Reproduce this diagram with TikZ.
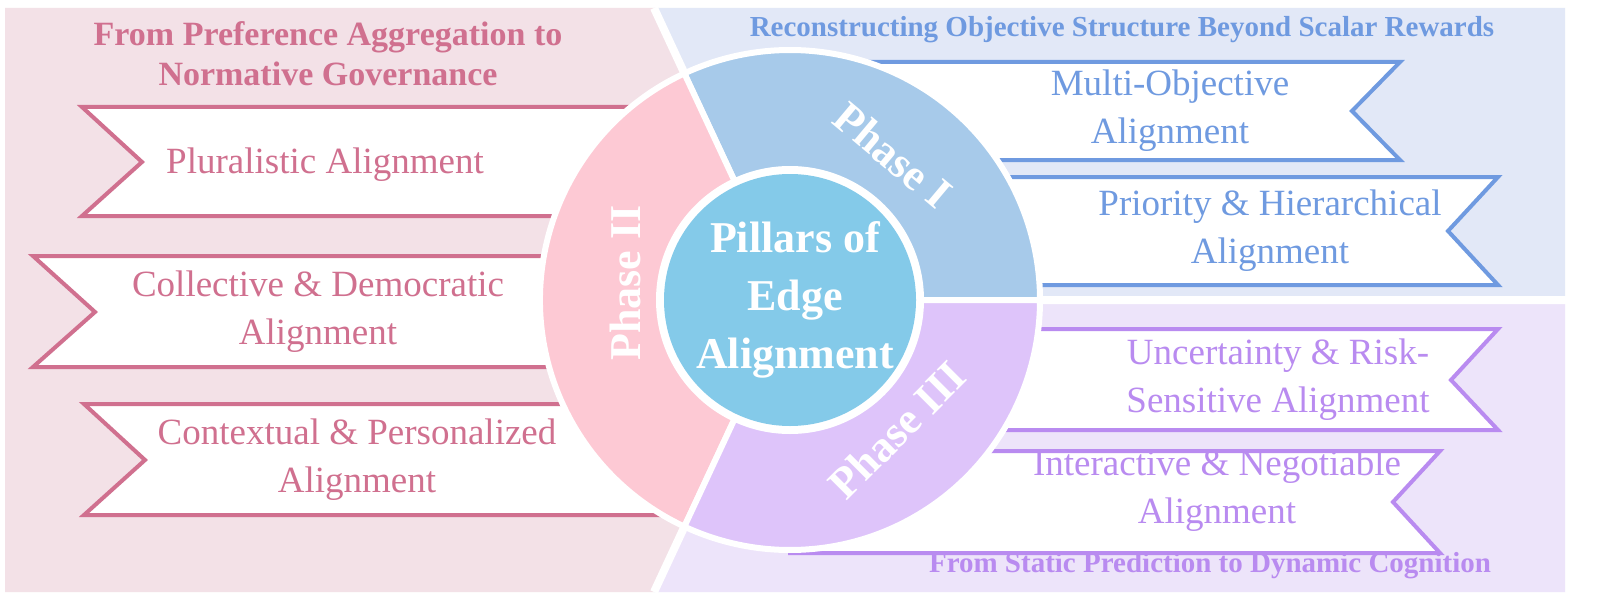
\documentclass[tikz,border=0pt]{standalone}
\usepackage{fontspec}
\setmainfont{Liberation Serif}
\definecolor{pbg}{HTML}{F3E1E7}\definecolor{pln}{HTML}{D0708F}\definecolor{pring}{HTML}{FDC9D4}
\definecolor{bbg}{HTML}{E2E8F7}\definecolor{bln}{HTML}{6F9AE0}\definecolor{bring}{HTML}{A7CAEA}
\definecolor{vbg}{HTML}{EDE4FA}\definecolor{vln}{HTML}{B98BF0}\definecolor{vring}{HTML}{DEC4FA}
\definecolor{core}{HTML}{84CAE9}
\begin{document}
\begin{tikzpicture}[x=0.5pt,y=-0.5pt,
  rib/.style={fill=white,draw=#1,line width=2pt,line join=miter},
  rtext/.style={text=#1,font=\fontsize{18.5}{24}\selectfont,align=center},
  ttl/.style={text=#1,font=\bfseries\fontsize{17}{20}\selectfont,align=center},
  wedge/.style={fill=#1,draw=white,line width=3pt},
  phase/.style={text=white,font=\bfseries\fontsize{22}{24}\selectfont}]
\useasboundingbox (0,0) rectangle (1600,610);
\fill[white] (0,0) rectangle (1600,610);
\coordinate (c) at (790,300);
% backgrounds
\fill[pbg] (5,8) -- (654,8) -- (c) -- (654,592) -- (5,592) -- cycle;
\fill[bbg] (654,8) -- (1565,8) -- (1565,300) -- (c) -- cycle;
\fill[vbg] (c) -- (1565,300) -- (1565,592) -- (654,592) -- cycle;
\draw[white,line width=4pt] (c) -- (654,8) (c) -- (654,592) (c) -- (1600,300);
% titles
\node[ttl=pln] (t2) at (328,54) {From Preference Aggregation to\\Normative Governance};
\node[ttl=bln,font=\bfseries\fontsize{14.5}{16}\selectfont] (t1) at (1122,30) {Reconstructing Objective Structure Beyond Scalar Rewards};
\node[ttl=vln,font=\bfseries\fontsize{14.5}{16}\selectfont] (t3) at (1210,566) {From Static Prediction to Dynamic Cognition};
% left ribbons
\draw[rib=pln] (82,107) -- (790,107) -- (790,216) -- (82,216) -- (142,162) -- cycle;
\draw[rib=pln] (33,256) -- (790,256) -- (790,367) -- (33,367) -- (95,312) -- cycle;
\draw[rib=pln] (84,404) -- (790,404) -- (790,515) -- (84,515) -- (145,460) -- cycle;
% right ribbons
\draw[rib=bln] (1400,62) -- (790,62) -- (790,160) -- (1400,160) -- (1352,111) -- cycle;
\draw[rib=bln] (1498,177) -- (790,177) -- (790,285) -- (1498,285) -- (1448,231) -- cycle;
\draw[rib=vln] (1498,329) -- (790,329) -- (790,430) -- (1498,430) -- (1451,380) -- cycle;
\draw[rib=vln] (1440,451) -- (790,451) -- (790,553) -- (1440,553) -- (1393,502) -- cycle;
% ribbon texts
\node[rtext=pln] (r1) at (325,165) {Pluralistic Alignment};
\node[rtext=pln] (r2) at (318,312) {Collective \& Democratic\\Alignment};
\node[rtext=pln] (r3) at (357,460) {Contextual \& Personalized\\Alignment};
\node[rtext=bln] (r4) at (1170,111) {Multi-Objective\\Alignment};
\node[rtext=bln] (r5) at (1270,231) {Priority \& Hierarchical\\Alignment};
\node[rtext=vln] (r6) at (1278,380) {Uncertainty \& Risk-\\Sensitive Alignment};
\node[rtext=vln] (r7) at (1217,491) {Interactive \& Negotiable\\Alignment};
% ring
\draw[wedge=bring] (c) -- ++(0:250) arc[start angle=0,end angle=-115,radius=250] -- cycle;
\draw[wedge=pring] (c) -- ++(-115:250) arc[start angle=-115,end angle=-245,radius=250] -- cycle;
\draw[wedge=vring] (c) -- ++(-245:250) arc[start angle=-245,end angle=-360,radius=250] -- cycle;
\fill[white] (c) circle[radius=134];
\fill[core] (c) circle[radius=126];
\node[text=white,font=\bfseries\fontsize{22}{29}\selectfont,align=center] (core) at (795,300) {Pillars of\\Edge\\Alignment};
\node[phase,rotate=-40] (p1) at (893,155) {Phase I};
\node[phase,rotate=90] (p2) at (625,283) {Phase II};
\node[phase,rotate=45] (p3) at (897,430) {Phase III};
\end{tikzpicture}
\end{document}
